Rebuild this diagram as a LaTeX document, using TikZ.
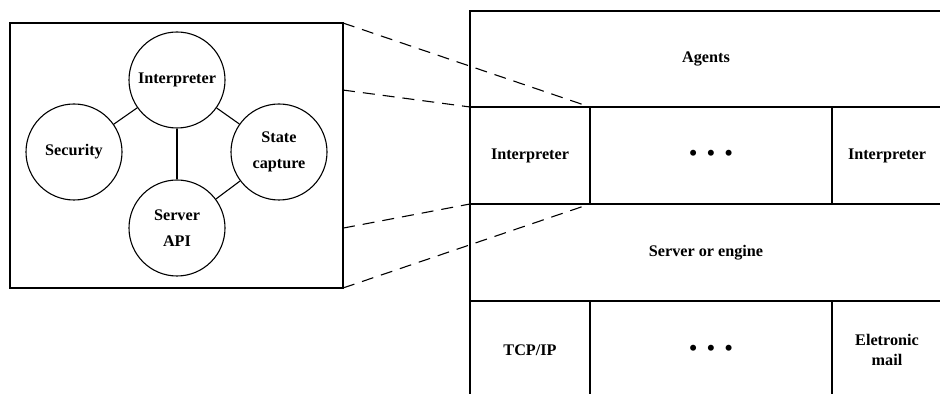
\documentclass[tikz,border=0pt]{standalone}
\usepackage{fontspec}
\setmainfont{Liberation Serif}
\usepackage{tikz}
\usetikzlibrary{calc}

\newcommand{\threedots}{\raisebox{-2pt}{\fontsize{11}{11}\selectfont\textbullet\hspace{5pt}\textbullet\hspace{5pt}\textbullet}}

\begin{document}
\begin{tikzpicture}[
        x=0.5pt, y=-0.5pt,
        line width=0.55pt,
        part/.style = {circle, draw, minimum size=48pt, inner sep=0pt, align=center,
                       font=\bfseries\fontsize{8.1}{13.3}\selectfont},
        layer/.style = {rectangle, draw, anchor=north west, outer sep=0pt, inner sep=0pt,
                        minimum height=48.5pt, align=center,
                        font=\bfseries\fontsize{8.1}{10.3}\selectfont},
        zoomline/.style = {dash pattern=on 6pt off 4pt},
    ]
    \useasboundingbox (0,0) rectangle (940,394);
    \clip (0,0) rectangle (940,394);
    % detail of one interpreter
    \node[rectangle, draw, anchor=north west, outer sep=0pt, minimum width=166.5pt, minimum height=132.5pt] (detail) at (10,23) {};
    \node[part] (interp) at (177,80) {Interpreter};
    \node[part] (security) at (74,152) {Security};
    \node[part] (state) at (279,152) {State\\capture};
    \node[part] (api) at (177,228) {Server\\API};
    \draw (interp) -- (security);
    \draw (interp) -- (state);
    \draw (interp) -- (api);
    \draw (api) -- (state);
    % layers of the system
    \node[layer, minimum width=236pt, minimum height=48pt] (agents) at (470,11) {Agents};
    \node[layer, minimum width=60pt] (interpL) at (470,107) {Interpreter};
    \node[layer, minimum width=121pt] (dotsA) at (590,107) {\threedots};
    \node[layer, minimum width=55pt] (interpR) at (832,107) {Interpreter};
    \node[layer, minimum width=236pt] (server) at (470,204) {Server or engine};
    \node[layer, minimum width=60pt, minimum height=49pt] (tcp) at (470,301) {TCP/IP};
    \node[layer, minimum width=121pt, minimum height=49pt] (dotsB) at (590,301) {\threedots};
    \node[layer, minimum width=55pt, minimum height=49pt] (mail) at (832,301) {Eletronic\\mail};
    % zoom lines
    \draw[zoomline] (detail.north east) -- (interpL.north east);
    \draw[zoomline] ($(detail.north east)!0.253!(detail.south east)$) -- (interpL.north west);
    \draw[zoomline] ($(detail.north east)!0.774!(detail.south east)$) -- (interpL.south west);
    \draw[zoomline] (detail.south east) -- (interpL.south east);
\end{tikzpicture}
\end{document}
